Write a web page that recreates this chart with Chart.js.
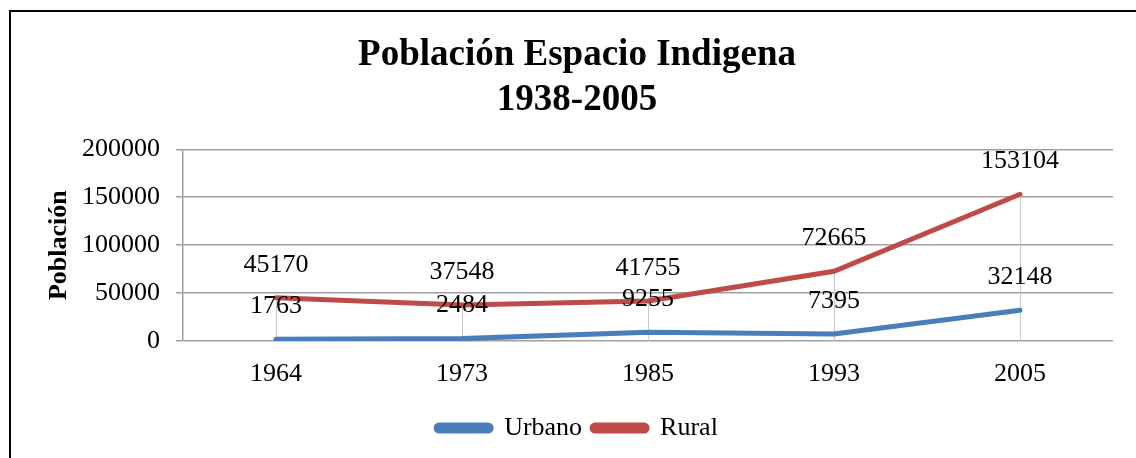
<!DOCTYPE html>
<html lang="es">
<head>
<meta charset="utf-8">
<title>Población Espacio Indigena</title>
<script src="https://cdn.jsdelivr.net/npm/chart.js@4.4.1/dist/chart.umd.min.js"></script>
<style>
    body { margin: 0; background: #fff; }
    #marco {
        position: absolute;
        left: 9px;
        top: 10px;
        width: 1125px;
        height: 446px;
        border-left: 2px solid #000;
        border-top: 2px solid #000;
    }
</style>
</head>
<body>
<div id="marco"><canvas id="grafica" width="1125" height="446"></canvas></div>
<script>
// datos
const anios = ['1964', '1973', '1985', '1993', '2005'];
const urbano = [1763, 2484, 9255, 7395, 32148];
const rural = [45170, 37548, 41755, 72665, 153104];
const ticksY = [0, 50000, 100000, 150000, 200000];

const letra = '"Liberation Serif", "Times New Roman", serif';

// lineas verticales desde el punto mas alto hasta el eje
const lineasCaida = {
    id: 'lineasCaida',
    beforeDatasetsDraw(chart) {
        const ctx = chart.ctx;
        const base = chart.chartArea.bottom;
        const m0 = chart.getDatasetMeta(0).data;
        const m1 = chart.getDatasetMeta(1).data;
        ctx.save();
        ctx.strokeStyle = '#c8c8c8';
        ctx.lineWidth = 1;
        for (let i = 0; i < m0.length; i++) {
            let x = Math.round(m0[i].x) + 0.5;
            let y = Math.min(m0[i].y, m1[i].y);
            ctx.beginPath();
            ctx.moveTo(x, y);
            ctx.lineTo(x, base);
            ctx.stroke();
        }
        ctx.restore();
    }
};

// etiquetas con el valor encima de cada punto
const etiquetas = {
    id: 'etiquetas',
    afterDatasetsDraw(chart) {
        const ctx = chart.ctx;
        ctx.save();
        ctx.font = '26px ' + letra;
        ctx.fillStyle = '#000';
        ctx.textAlign = 'center';
        ctx.textBaseline = 'middle';
        chart.data.datasets.forEach((ds, d) => {
            chart.getDatasetMeta(d).data.forEach((p, i) => {
                ctx.fillText(String(ds.data[i]), p.x, p.y - 33);
            });
        });
        ctx.restore();
    }
};

new Chart(document.getElementById('grafica'), {
    type: 'line',
    data: {
        labels: anios,
        datasets: [{
            label: 'Urbano',
            data: urbano,
            borderColor: '#4a7ebb',
            backgroundColor: '#4a7ebb',
            borderWidth: 5,
            borderCapStyle: 'round',
            pointRadius: 0,
            tension: 0
        }, {
            label: 'Rural',
            data: rural,
            borderColor: '#be4b48',
            backgroundColor: '#be4b48',
            borderWidth: 5,
            borderCapStyle: 'round',
            pointRadius: 0,
            tension: 0
        }]
    },
    options: {
        responsive: false,
        animation: false,
        layout: { padding: { left: 30, right: 23, top: 0, bottom: 7 } },
        plugins: {
            title: {
                display: true,
                text: ['Población Espacio Indigena', '1938-2005'],
                color: '#000',
                font: { family: letra, size: 37, weight: 'bold', lineHeight: 1.22 },
                padding: { top: 21, bottom: 26 }
            },
            legend: {
                position: 'bottom',
                labels: {
                    color: '#000',
                    font: { family: letra, size: 26 },
                    boxWidth: 55,
                    boxHeight: 6,
                    useBorderRadius: true,
                    borderRadius: 3,
                    padding: 10
                }
            },
            tooltip: { enabled: false }
        },
        scales: {
            x: {
                offset: true,
                grid: { display: false },
                border: { display: false },
                ticks: {
                    color: '#000',
                    font: { family: letra, size: 26 },
                    padding: 10,
                    maxRotation: 0
                },
                afterFit(scale) { scale.height = 64; }
            },
            y: {
                min: 0,
                max: 200000,
                afterBuildTicks(scale) { scale.ticks = ticksY.map(v => ({ value: v })); },
                grid: { color: '#a0a0a0', lineWidth: 1.5, tickLength: 7 },
                border: { color: '#a0a0a0', width: 1.5 },
                ticks: {
                    color: '#000',
                    font: { family: letra, size: 26 },
                    padding: 16,
                    callback: v => String(v)
                },
                title: {
                    display: true,
                    text: 'Población',
                    color: '#000',
                    font: { family: letra, size: 26, weight: 'bold' },
                    padding: { top: 3, bottom: 0 }
                },
                afterFit(scale) { scale.width = 142; }
            }
        }
    },
    plugins: [lineasCaida, etiquetas]
});
</script>
</body>
</html>
